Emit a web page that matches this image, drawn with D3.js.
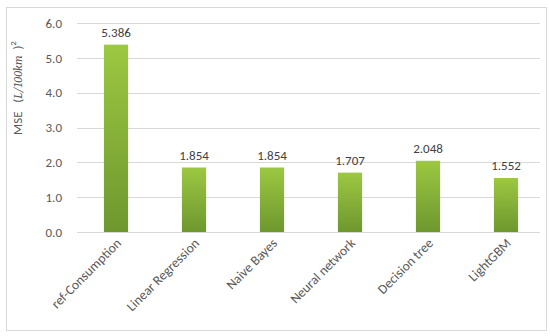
<!DOCTYPE html>
<meta charset="utf-8">
<script src="https://d3js.org/d3.v7.min.js"></script>
<body style="margin:0;background:#fff">
<svg width="550" height="336"></svg>
<script>
    var categories = ['ref-Consumption', 'Linear Regression', 'Naive Bayes', 'Neural network', 'Decision tree', 'LightGBM'];
    var mse        = [5.386, 1.854, 1.854, 1.707, 2.048, 1.552];
    var yTicks     = [0, 1, 2, 3, 4, 5, 6];

    var svg = d3.select('svg');
    var font = 'Calibri, Carlito, "Open Sans", sans-serif';

    // outer frame
    svg.append('rect')
        .attr('x', 6.5).attr('y', 7.5).attr('width', 540).attr('height', 323)
        .attr('fill', '#fff').attr('stroke', '#d9d9d9');

    var x = d3.scaleBand().domain(categories).range([77, 545]).paddingInner(0.69).paddingOuter(0.345);
    var y = d3.scaleLinear().domain([0, 6]).range([232, 23.3]);

    var grad = svg.append('defs').append('linearGradient')
        .attr('id', 'g').attr('x1', 0).attr('y1', 0).attr('x2', 0).attr('y2', 1);
    grad.append('stop').attr('offset', '0%').attr('stop-color', '#9cc842');
    grad.append('stop').attr('offset', '100%').attr('stop-color', '#6e972e');

    // grid
    svg.append('g').selectAll('line').data(yTicks).enter().append('line')
        .attr('x1', 77).attr('x2', 540)
        .attr('y1', function(d){ return Math.round(y(d)) + 0.5; })
        .attr('y2', function(d){ return Math.round(y(d)) + 0.5; })
        .attr('stroke', '#d9d9d9');

    // y tick labels
    svg.append('g').selectAll('text').data(yTicks).enter().append('text')
        .attr('x', 62).attr('y', function(d){ return y(d) + 4.5; })
        .attr('text-anchor', 'end')
        .style('font', '13px ' + font).attr('fill', '#595959')
        .text(function(d){ return d.toFixed(1); });

    // bars
    svg.append('g').selectAll('rect').data(mse).enter().append('rect')
        .attr('x', function(d, i){ return x(categories[i]); })
        .attr('y', function(d){ return y(d); })
        .attr('width', x.bandwidth())
        .attr('height', function(d){ return y(0) - y(d); })
        .attr('fill', 'url(#g)');

    // value labels
    svg.append('g').selectAll('text').data(mse).enter().append('text')
        .attr('x', function(d, i){ return x(categories[i]) + x.bandwidth() / 2; })
        .attr('y', function(d){ return y(d) - 8; })
        .attr('text-anchor', 'middle')
        .style('font', '13px ' + font).attr('fill', '#404040')
        .text(function(d){ return d.toFixed(3); });

    // category labels
    svg.append('g').selectAll('text').data(categories).enter().append('text')
        .attr('transform', function(d){ return 'translate(' + (x(d) + x.bandwidth() / 2 + 6) + ',244) rotate(-45)'; })
        .attr('text-anchor', 'end')
        .style('font', '13.5px ' + font).attr('fill', '#595959')
        .text(function(d){ return d; });

    // y title
    var t = svg.append('text')
        .attr('transform', 'translate(22,88) rotate(-90)')
        .attr('text-anchor', 'middle')
        .style('font', '13px ' + font).attr('fill', '#595959');
    t.append('tspan').text('MSE\u00a0\u00a0\u00a0(');
    t.append('tspan').style('font-style', 'italic').style('font-family', 'Cambria, "DejaVu Serif", serif').style('font-size', '12px').text('L/100km');
    t.append('tspan').text('\u00a0\u00a0)');
    t.append('tspan').attr('dy', -6).style('font-size', '9px').text('2');
</script>
</body>
